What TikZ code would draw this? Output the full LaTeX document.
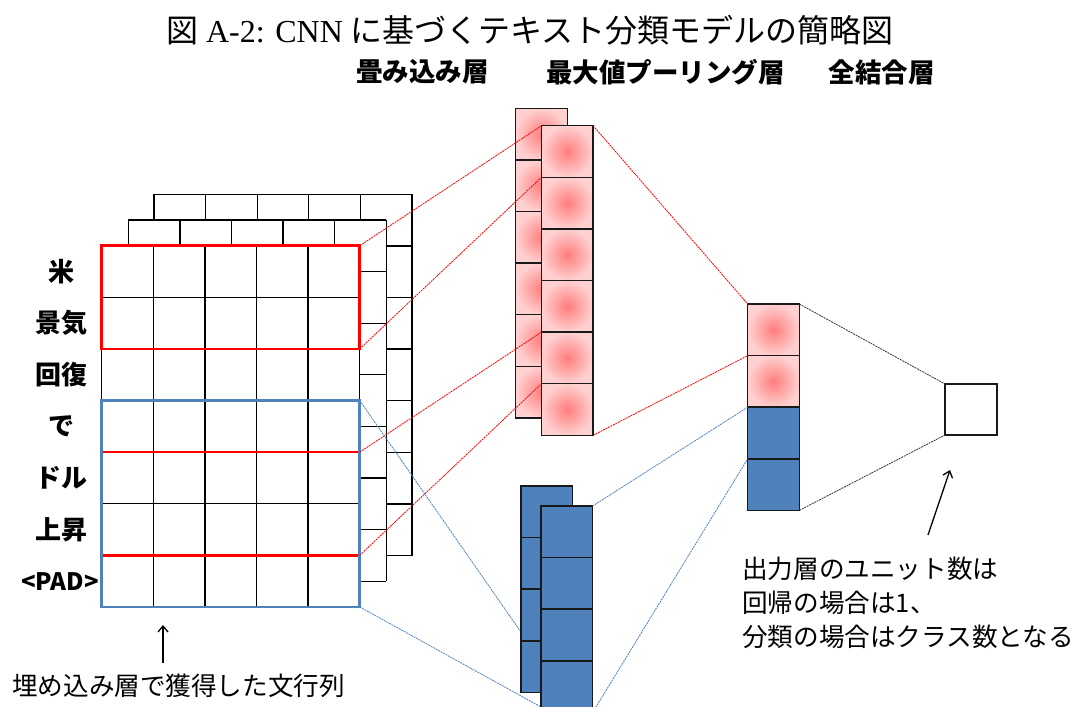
\documentclass[tikz,border=0pt]{standalone}
\usepackage{fontspec}
\setmainfont{Liberation Serif}
\newfontfamily\jp{Noto Sans CJK JP}
\usetikzlibrary{arrows.meta}
\definecolor{myblue}{RGB}{79,129,189}
\definecolor{pinkin}{RGB}{255,125,125}
\definecolor{pinkout}{RGB}{255,208,208}
\newcommand{\embgrid}[2]{%
  \fill[white] (#1,#2) rectangle ++(258,361.2);
  \foreach \i in {0,...,5} \draw[gridline] ({#1+\i*51.6},#2) -- ++(0,361.2);
  \foreach \j in {0,...,7} \draw[gridline] (#1,{#2+\j*51.6}) -- ++(258,0);
}
\begin{document}
\begin{tikzpicture}[x=1pt,y=-1pt,
  gridline/.style={line width=1.3pt,black},
  cellbase/.style={draw=black!90,line width=1.5pt,minimum width=51.6pt,minimum height=51.6pt,inner sep=0pt,outer sep=0pt,anchor=north west},
  pinkcell/.style={cellbase,inner color=pinkin,outer color=pinkout},
  bluecell/.style={cellbase,fill=myblue},
  redbox/.style={draw=red,line width=2.6pt,inner sep=0pt,outer sep=0pt,anchor=north west,minimum width=258pt},
  bluebox/.style={draw=myblue,line width=2.6pt,inner sep=0pt,outer sep=0pt,anchor=north west,minimum width=258pt},
  redlink/.style={red,line width=0.8pt,dash pattern=on 2pt off 0.8pt},
  bluelink/.style={myblue,line width=0.8pt,dash pattern=on 2pt off 0.8pt},
  blacklink/.style={black!80,line width=0.8pt,dash pattern=on 2pt off 0.8pt},
  word/.style={font=\jp\bfseries\fontsize{26}{30}\selectfont,inner sep=0pt},
  layer/.style={font=\jp\bfseries\fontsize{26.5}{31}\selectfont,inner sep=0pt},
  note/.style={font=\jp\fontsize{25.6}{30}\selectfont,inner sep=0pt,anchor=west},
  pointer/.style={line width=1.3pt,-{Straight Barb[length=6pt,width=10pt]}}
]
\useasboundingbox (0,0) rectangle (1072,707);

% title and layer labels
\node[inner sep=0pt,font=\fontsize{32}{38}\selectfont] (title) at (530,30) {{\jp 図} A-2: CNN {\jp に基づくテキスト分類モデルの簡略図}};
\node[layer] (lconv) at (422.5,72) {畳み込み層};
\node[layer] (lpool) at (665.5,72) {最大値プーリング層};
\node[layer] (lfull) at (881.5,72) {全結合層};

% embedding grids (back to front)
\embgrid{154}{194.3}
\embgrid{128.3}{220}
\embgrid{101.7}{245.7}

% windows
\node[redbox,minimum height=103.2pt] (r1) at (101.7,245.7) {};
\node[redbox,minimum height=103.2pt] (r2) at (101.7,452.1) {};
\node[bluebox,minimum height=206.4pt] (bw) at (101.7,400.5) {};

% word labels
\node[word] (w1) at (61,271.5) {米};
\node[word] (w2) at (61,323.1) {景気};
\node[word] (w3) at (61,374.7) {回復};
\node[word] (w4) at (61,426.3) {で};
\node[word] (w5) at (61,477.9) {ドル};
\node[word] (w6) at (61,529.5) {上昇};
\node[word,font=\jp\bfseries\fontsize{24}{28}\selectfont] (w7) at (60,581.1) {<PAD>};

% pink convolution columns
\foreach \k in {1,...,6} \node[pinkcell] (pb\k) at (515.7,{108.3+(\k-1)*51.6}) {};
\foreach \k in {1,...,6} \coordinate (pfc\k) at (541.5,{125.7+(\k-1)*51.6});
\draw[redlink] (r1.north east) -- (pfc1);
\draw[redlink] (r1.south east) -- (pfc2);
\draw[redlink] (r2.north east) -- (pfc5);
\draw[redlink] (r2.south east) -- (pfc6);
\foreach \k in {1,...,6} \node[pinkcell] (pf\k) at (pfc\k) {};

% blue convolution columns
\foreach \k in {1,...,4} \coordinate (bfc\k) at (541,{506+(\k-1)*51.6});
\coordinate (bend) at (541,707);
\draw[bluelink] (bw.north east) -- (bfc4);
\draw[bluelink] (bw.south east) -- (bend);
\foreach \k in {1,...,4} \node[bluecell] (bb\k) at (521,{486+(\k-1)*51.6}) {};
\foreach \k in {1,...,4} \node[bluecell] (bf\k) at (bfc\k) {};

% pooled column
\node[pinkcell] (q1) at (747.7,304) {};
\node[pinkcell] (q2) at (747.7,355.6) {};
\node[bluecell] (q3) at (747.7,407.2) {};
\node[bluecell] (q4) at (747.7,458.8) {};
\draw[redlink] (pf1.north east) -- (q1.north west);
\draw[redlink] (pf6.south east) -- (q1.south west);
\draw[bluelink] (bf1.north east) -- (q3.north west);
\draw[bluelink] (bf4.south east) -- (q3.south west);

% output unit
\node[draw=black!90,line width=1.5pt,minimum width=52pt,minimum height=51pt,inner sep=0pt,outer sep=0pt,anchor=north west] (out) at (945,384) {};
\draw[blacklink] (q1.north east) -- (out.north west);
\draw[blacklink] (q4.south east) -- (out.south west);

% notes
\coordinate (a1s) at (163,663);
\coordinate (a1e) at (163,625);
\draw[pointer] (a1s) -- (a1e);
\node[note] (n1) at (12,686) {埋め込み層で獲得した文行列};
\coordinate (a2s) at (928,535);
\coordinate (a2e) at (950,470);
\draw[pointer] (a2s) -- (a2e);
\node[note] (n2) at (742,569) {出力層のユニット数は};
\node[note] (n3) at (742,603) {回帰の場合は1、};
\node[note] (n4) at (742,637) {分類の場合はクラス数となる};
\end{tikzpicture}
\end{document}
